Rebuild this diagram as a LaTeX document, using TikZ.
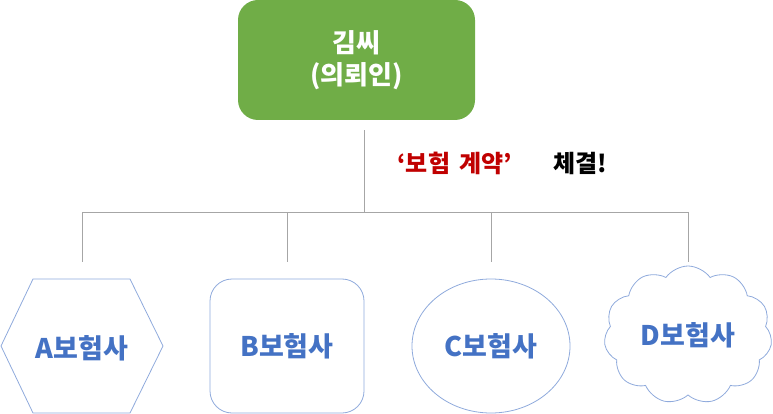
\documentclass[tikz,border=0pt]{standalone}
\usepackage{fontspec}
\setmainfont{Noto Sans CJK KR}
\usepackage{tikz}
\usetikzlibrary{shapes.geometric, shapes.symbols, positioning}
\definecolor{clientgreen}{HTML}{70AD47}
\definecolor{shapeline}{HTML}{8FAADC}
\definecolor{shapetext}{HTML}{4472C4}
\definecolor{treeline}{HTML}{A6A6A6}
\definecolor{contractred}{HTML}{C00000}

\begin{document}
\begin{tikzpicture}[x=1pt, y=-1pt,
    client/.style={rectangle, rounded corners=20pt, fill=clientgreen, minimum width=237pt, minimum height=120pt, align=center, text=white, font=\fontsize{26}{32}\selectfont\bfseries},
    insurer/.style={draw=shapeline, line width=0.8pt, text=shapetext, font=\fontsize{27}{30}\selectfont\bfseries, inner sep=0pt},
    label/.style={font=\fontsize{24}{28}\selectfont\bfseries, anchor=west},
    link/.style={draw=treeline, line width=0.8pt}
]
\useasboundingbox (0,0) rectangle (773,414);

\node[client] (kim) at (356.5,60) {김씨\\(의뢰인)};

\node[label, text=contractred] (contract) at (394,163) {‘보험\hspace{9pt}계약’};
\node[label] (signed) at (550,163) {체결!};

% hexagon drawn round its text
\node[insurer, draw=none] (insA) at (82,348) {A보험사};
\draw[draw=shapeline, line width=0.8pt] (1,346) -- (33,279) -- (130,279) -- (163,346) -- (130,413) -- (33,413) -- cycle;
\node[insurer, rectangle, rounded corners=22pt, minimum width=154pt, minimum height=134pt] (insB) at (287,346) {B보험사};
\node[insurer, ellipse, minimum width=158pt, minimum height=134pt] (insC) at (491,346) {C보험사};
\node[insurer, cloud, cloud puffs=11, cloud puff arc=110, aspect=1.3, minimum width=168pt, minimum height=138pt] (insD) at (688,335) {D보험사};

% tree connectors
\coordinate (bus) at (364,212);
\coordinate (busL) at (82,212);
\coordinate (busR) at (688,212);
\draw[link] (kim.south -| bus) ++(0,10) coordinate (stem) -- (bus);
\draw[link] (busL) -- (busR);
\foreach \ins in {insA, insB, insC, insD}
    \draw[link] (bus -| \ins) -- ++(0,50);

\end{tikzpicture}
\end{document}
